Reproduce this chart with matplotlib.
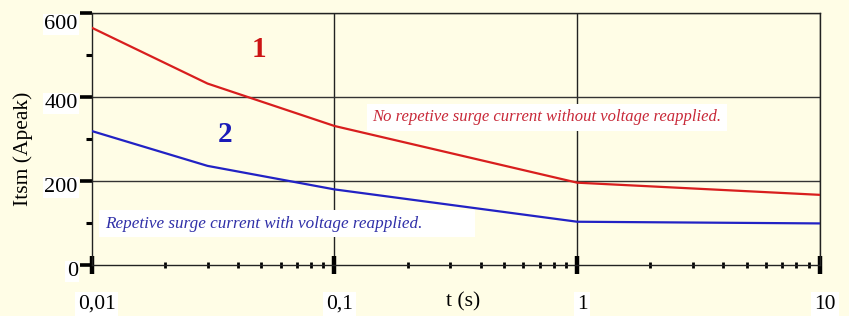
import matplotlib
matplotlib.use("Agg")
import matplotlib.pyplot as plt
import matplotlib.transforms as mtransforms
from matplotlib.ticker import FixedLocator, FixedFormatter, NullFormatter

# ---- data ----
t_red = [0.01, 0.03, 0.1, 1, 10]
itsm_red = [565, 432, 331, 196, 167]
t_blue = [0.01, 0.03, 0.1, 1, 10]
itsm_blue = [319, 236, 180, 103, 99]

x_ticks = [0.01, 0.1, 1, 10]
x_tick_labels = ["0,01", "0,1", "1", "10"]
y_ticks = [0, 200, 400, 600]
y_tick_labels = ["0", "200", "400", "600"]
y_minor = [100, 300, 500]

label_red = "No repetive surge current without voltage reapplied."
label_blue = "Repetive surge current with voltage reapplied."

BG = "#FFFDE6"
RED = "#D81E1E"
BLUE = "#2222C4"
SERIF = ["Liberation Serif", "DejaVu Serif"]

plt.rcParams["font.family"] = SERIF

fig = plt.figure(figsize=(8.49, 3.16), dpi=100, facecolor=BG)
ax = fig.add_axes([91.7 / 849, 1 - 265 / 316, (820 - 91.7) / 849, (265 - 13) / 316])
ax.set_facecolor(BG)

ax.plot(t_red, itsm_red, color=RED, lw=1.6, zorder=3)
ax.plot(t_blue, itsm_blue, color=BLUE, lw=1.6, zorder=3)

ax.set_xscale("log")
ax.set_xlim(0.01, 10)
ax.set_ylim(0, 600)

# grid
for xv in x_ticks[1:]:
    ax.axvline(xv, color="#222222", lw=1.0, zorder=1)
for yv in y_ticks[1:]:
    ax.axhline(yv, color="#333333", lw=1.0, zorder=1)

for s in ax.spines.values():
    s.set_color("#222222")
    s.set_linewidth(1.0)

ax.xaxis.set_major_locator(FixedLocator(x_ticks))
ax.xaxis.set_major_formatter(FixedFormatter(x_tick_labels))
ax.xaxis.set_minor_formatter(NullFormatter())
ax.yaxis.set_major_locator(FixedLocator(y_ticks))
ax.yaxis.set_major_formatter(FixedFormatter(y_tick_labels))
ax.yaxis.set_minor_locator(FixedLocator(y_minor))

ax.tick_params(axis="x", which="major", direction="inout", length=13, width=3.2,
               color="black", pad=15, labelsize=15.5)
ax.tick_params(axis="x", which="minor", direction="inout", length=5, width=2.0, color="black")
ax.tick_params(axis="y", which="major", direction="out", length=9, width=2.6,
               color="black", pad=1, labelsize=16)
ax.tick_params(axis="y", which="minor", direction="out", length=4, width=2.2, color="black")

offset = mtransforms.ScaledTranslation(5 / 100, 0, fig.dpi_scale_trans)
for lab in ax.get_xticklabels():
    lab.set_transform(lab.get_transform() + offset)
    lab.set_bbox(dict(facecolor="white", edgecolor="none", pad=2))
for lab, yv in zip(ax.get_yticklabels(), y_ticks):
    dy = -9 if yv == 600 else -4
    lab.set_transform(lab.get_transform() +
                      mtransforms.ScaledTranslation(0, dy / 100, fig.dpi_scale_trans))
    lab.set_bbox(dict(facecolor="white", edgecolor="none", pad=1))

ax.set_xlabel("t (s)", fontsize=15.5)
ax.xaxis.set_label_coords(0.51, -0.11)
ax.xaxis.label.set_verticalalignment("top")
ax.set_ylabel("Itsm (Apeak)", fontsize=15.5)
ax.yaxis.set_label_coords(-0.081, 0.46)

ax.text(0.049, 512, "1", color="#CC1414", fontsize=21, fontweight="bold",
        ha="center", va="center", zorder=4)
ax.text(0.0354, 310, "2", color="#1A1AB8", fontsize=21, fontweight="bold",
        ha="center", va="center", zorder=4)

ax.text(0.75, 352, label_red, color="#C82838", fontsize=12, fontstyle="italic",
        ha="center", va="center", zorder=4,
        bbox=dict(facecolor="white", edgecolor="none", pad=4))
ax.text(0.01135, 98, label_blue + "           ", color="#3030A8", fontsize=12.3,
        fontstyle="italic", ha="left", va="center", zorder=4,
        bbox=dict(facecolor="white", edgecolor="none", pad=4))

fig.savefig("out.png", dpi=100, facecolor=BG)
